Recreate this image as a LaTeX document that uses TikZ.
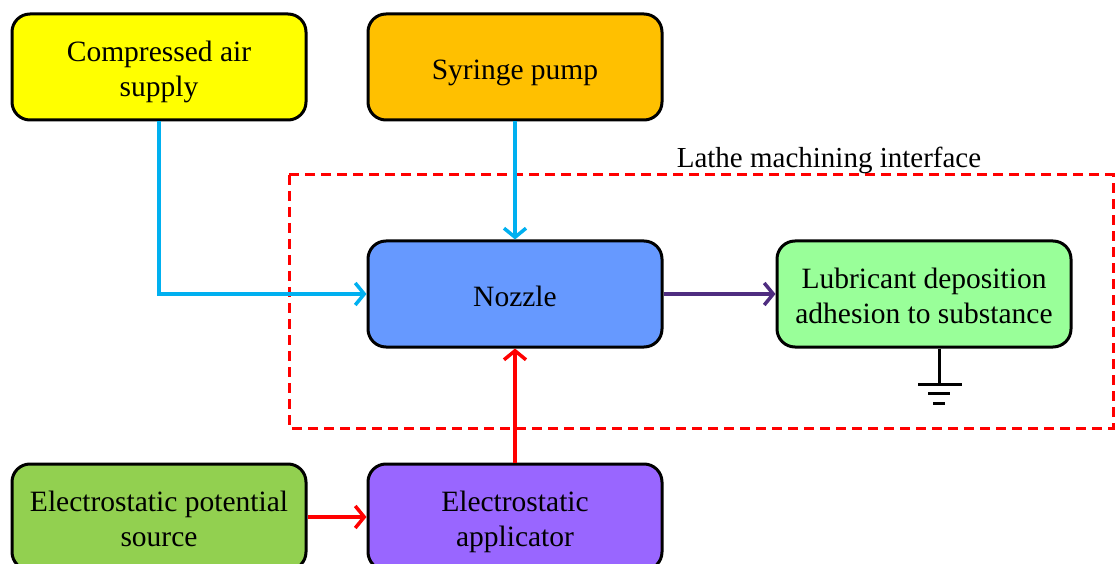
\documentclass[tikz,border=0pt]{standalone}
\usepackage{fontspec}
\setmainfont{Liberation Serif}
\usetikzlibrary{arrows.meta}
\definecolor{airyellow}{HTML}{FFFF00}
\definecolor{pumporange}{HTML}{FFC000}
\definecolor{nozzleblue}{HTML}{6699FF}
\definecolor{lubgreen}{HTML}{99FF99}
\definecolor{sourcegreen}{HTML}{92D050}
\definecolor{applpurple}{HTML}{9966FF}
\definecolor{feedcyan}{HTML}{00B0F0}
\definecolor{flowpurple}{HTML}{4F2D80}
% centred block caption, drawn a little below the box centre
\newcommand{\blocktext}[1]{\raisebox{-5pt}[\height][\depth]{\begin{tabular}{@{}c@{}}#1\end{tabular}}}
\tikzset{
  block/.style={draw=black, line width=3pt, rounded corners=18pt,
    minimum width=294pt, minimum height=106pt, align=center,
    inner sep=0pt, font=\fontsize{29.5}{35.5}\selectfont},
  feed/.style={draw=feedcyan, line width=3.5pt,
    -{Straight Barb[length=9pt,width=22pt,line width=3.5pt]}},
  charge/.style={draw=red, line width=3.5pt,
    -{Straight Barb[length=9pt,width=22pt,line width=3.5pt]}},
  flow/.style={draw=flowpurple, line width=3.5pt,
    -{Straight Barb[length=9pt,width=22pt,line width=3.5pt]}},
  ground/.style={line width=3pt, draw=black}
}
\begin{document}
\begin{tikzpicture}[x=1pt,y=-1pt]
\useasboundingbox (0,0) rectangle (1117,564);

% interface region
\draw[red, line width=3pt, dash pattern=on 10pt off 6pt] (289,175) rectangle (1113,428);
\node[font=\fontsize{29}{35}\selectfont, anchor=base] (lathe) at (829,168) {Lathe machining interface};

% blocks
\node[block, fill=airyellow] (air) at (159,67) {\blocktext{Compressed air\\supply}};
\node[block, fill=pumporange] (pump) at (515,67) {\blocktext{Syringe pump}};
\node[block, fill=nozzleblue] (nozzle) at (515,294) {\blocktext{Nozzle}};
\node[block, fill=lubgreen] (lub) at (924,294) {\blocktext{Lubricant deposition\\adhesion to substance}};
\node[block, fill=sourcegreen] (source) at (159,517) {\blocktext{Electrostatic potential\\source}};
\node[block, fill=applpurple] (appl) at (515,517) {\blocktext{Electrostatic\\applicator}};

% connectors
\coordinate (bend) at (air.south |- nozzle.west);
\draw[feed] (air.south) -- (bend) -- (nozzle.west);
\draw[feed] (pump.south) -- (nozzle.north);
\draw[flow] (nozzle.east) -- (lub.west);
\draw[charge] (source.east) -- (appl.west);
\draw[charge] (appl.north) -- (nozzle.south);

% earth connection
\coordinate (gtop) at (939,347);
\coordinate (g1) at (939,384);
\draw[ground] (lub.south -| gtop) -- (g1);
\draw[ground] (918,384) -- (962,384);
\draw[ground] (928,393) -- (950,393);
\draw[ground] (933,403) -- (945,403);
\end{tikzpicture}
\end{document}
